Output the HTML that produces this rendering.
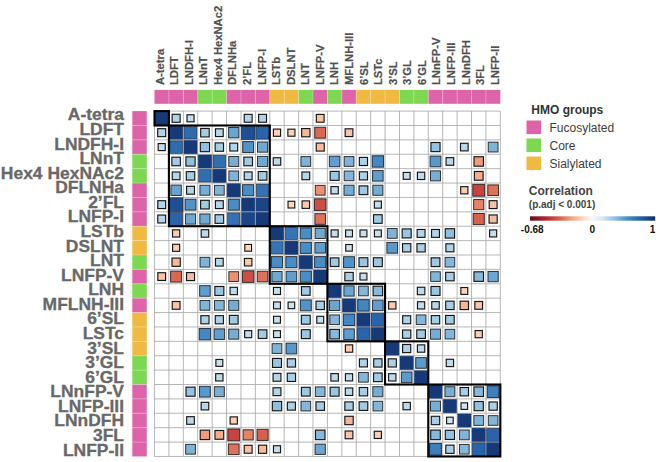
<!DOCTYPE html>
<html><head><meta charset="utf-8"><title>HMO correlation heatmap</title>
<style>html,body{margin:0;padding:0;background:#fff}body{width:661px;height:462px;overflow:hidden}</style></head>
<body>
<svg width="661" height="462" viewBox="0 0 661 462" style="display:block">
<rect width="661" height="462" fill="#fff"/>
<g font-family="'Liberation Sans', Arial, Helvetica, sans-serif" font-weight="bold" font-size="11" fill="#505050" stroke="#505050" stroke-width="0.2">
<text transform="translate(163.60,85.0) rotate(-90) scale(1.02,1)">A-tetra</text>
<text transform="translate(178.17,85.0) rotate(-90) scale(1.02,1)">LDFT</text>
<text transform="translate(192.74,85.0) rotate(-90) scale(1.02,1)">LNDFH-I</text>
<text transform="translate(207.31,85.0) rotate(-90) scale(1.02,1)">LNnT</text>
<text transform="translate(221.88,85.0) rotate(-90) scale(1.02,1)">Hex4 HexNAc2</text>
<text transform="translate(236.45,85.0) rotate(-90) scale(1.02,1)">DFLNHa</text>
<text transform="translate(251.02,85.0) rotate(-90) scale(1.02,1)">2’FL</text>
<text transform="translate(265.59,85.0) rotate(-90) scale(1.02,1)">LNFP-I</text>
<text transform="translate(280.16,85.0) rotate(-90) scale(1.02,1)">LSTb</text>
<text transform="translate(294.73,85.0) rotate(-90) scale(1.02,1)">DSLNT</text>
<text transform="translate(309.30,85.0) rotate(-90) scale(1.02,1)">LNT</text>
<text transform="translate(323.87,85.0) rotate(-90) scale(1.02,1)">LNFP-V</text>
<text transform="translate(338.44,85.0) rotate(-90) scale(1.02,1)">LNH</text>
<text transform="translate(353.01,85.0) rotate(-90) scale(1.02,1)">MFLNH-III</text>
<text transform="translate(367.58,85.0) rotate(-90) scale(1.02,1)">6’SL</text>
<text transform="translate(382.15,85.0) rotate(-90) scale(1.02,1)">LSTc</text>
<text transform="translate(396.72,85.0) rotate(-90) scale(1.02,1)">3’SL</text>
<text transform="translate(411.29,85.0) rotate(-90) scale(1.02,1)">3’GL</text>
<text transform="translate(425.86,85.0) rotate(-90) scale(1.02,1)">6’GL</text>
<text transform="translate(440.43,85.0) rotate(-90) scale(1.02,1)">LNnFP-V</text>
<text transform="translate(455.00,85.0) rotate(-90) scale(1.02,1)">LNFP-III</text>
<text transform="translate(469.57,85.0) rotate(-90) scale(1.02,1)">LNnDFH</text>
<text transform="translate(484.14,85.0) rotate(-90) scale(1.02,1)">3FL</text>
<text transform="translate(498.71,85.0) rotate(-90) scale(1.02,1)">LNFP-II</text>
</g>
<g font-family="'Liberation Sans', Arial, Helvetica, sans-serif" font-weight="bold" font-size="17.2" fill="#686868" stroke="#686868" stroke-width="0.3" text-anchor="end">
<text transform="translate(124,120.40) scale(1.015,1)">A-tetra</text>
<text transform="translate(124,134.97) scale(1.015,1)">LDFT</text>
<text transform="translate(124,149.54) scale(1.015,1)">LNDFH-I</text>
<text transform="translate(124,164.11) scale(1.015,1)">LNnT</text>
<text transform="translate(124,178.68) scale(1.015,1)">Hex4 HexNAc2</text>
<text transform="translate(124,193.25) scale(1.015,1)">DFLNHa</text>
<text transform="translate(124,207.82) scale(1.015,1)">2’FL</text>
<text transform="translate(124,222.39) scale(1.015,1)">LNFP-I</text>
<text transform="translate(124,236.96) scale(1.015,1)">LSTb</text>
<text transform="translate(124,251.53) scale(1.015,1)">DSLNT</text>
<text transform="translate(124,266.10) scale(1.015,1)">LNT</text>
<text transform="translate(124,280.67) scale(1.015,1)">LNFP-V</text>
<text transform="translate(124,295.24) scale(1.015,1)">LNH</text>
<text transform="translate(124,309.81) scale(1.015,1)">MFLNH-III</text>
<text transform="translate(124,324.38) scale(1.015,1)">6’SL</text>
<text transform="translate(124,338.95) scale(1.015,1)">LSTc</text>
<text transform="translate(124,353.52) scale(1.015,1)">3’SL</text>
<text transform="translate(124,368.09) scale(1.015,1)">3’GL</text>
<text transform="translate(124,382.66) scale(1.015,1)">6’GL</text>
<text transform="translate(124,397.23) scale(1.015,1)">LNnFP-V</text>
<text transform="translate(124,411.80) scale(1.015,1)">LNFP-III</text>
<text transform="translate(124,426.37) scale(1.015,1)">LNnDFH</text>
<text transform="translate(124,440.94) scale(1.015,1)">3FL</text>
<text transform="translate(124,455.51) scale(1.015,1)">LNFP-II</text>
</g>
<rect x="154.50" y="89.9" width="14.41" height="13.9" fill="#DE64AA"/>
<rect x="168.91" y="89.9" width="14.41" height="13.9" fill="#DE64AA"/>
<rect x="183.32" y="89.9" width="14.41" height="13.9" fill="#DE64AA"/>
<rect x="197.73" y="89.9" width="14.41" height="13.9" fill="#7DD750"/>
<rect x="212.14" y="89.9" width="14.41" height="13.9" fill="#7DD750"/>
<rect x="226.55" y="89.9" width="14.41" height="13.9" fill="#DE64AA"/>
<rect x="240.96" y="89.9" width="14.41" height="13.9" fill="#DE64AA"/>
<rect x="255.37" y="89.9" width="14.41" height="13.9" fill="#DE64AA"/>
<rect x="269.78" y="89.9" width="14.41" height="13.9" fill="#F0B941"/>
<rect x="284.19" y="89.9" width="14.41" height="13.9" fill="#F0B941"/>
<rect x="298.60" y="89.9" width="14.41" height="13.9" fill="#7DD750"/>
<rect x="313.01" y="89.9" width="14.41" height="13.9" fill="#DE64AA"/>
<rect x="327.42" y="89.9" width="14.41" height="13.9" fill="#7DD750"/>
<rect x="341.83" y="89.9" width="14.41" height="13.9" fill="#DE64AA"/>
<rect x="356.24" y="89.9" width="14.41" height="13.9" fill="#F0B941"/>
<rect x="370.65" y="89.9" width="14.41" height="13.9" fill="#F0B941"/>
<rect x="385.06" y="89.9" width="14.41" height="13.9" fill="#F0B941"/>
<rect x="399.47" y="89.9" width="14.41" height="13.9" fill="#7DD750"/>
<rect x="413.88" y="89.9" width="14.41" height="13.9" fill="#7DD750"/>
<rect x="428.29" y="89.9" width="14.41" height="13.9" fill="#DE64AA"/>
<rect x="442.70" y="89.9" width="14.41" height="13.9" fill="#DE64AA"/>
<rect x="457.11" y="89.9" width="14.41" height="13.9" fill="#DE64AA"/>
<rect x="471.52" y="89.9" width="14.41" height="13.9" fill="#DE64AA"/>
<rect x="485.93" y="89.9" width="14.41" height="13.9" fill="#DE64AA"/>
<rect x="132.3" y="111.10" width="14.5" height="14.39" fill="#DE64AA"/>
<rect x="132.3" y="125.49" width="14.5" height="14.39" fill="#DE64AA"/>
<rect x="132.3" y="139.88" width="14.5" height="14.39" fill="#DE64AA"/>
<rect x="132.3" y="154.27" width="14.5" height="14.39" fill="#7DD750"/>
<rect x="132.3" y="168.66" width="14.5" height="14.39" fill="#7DD750"/>
<rect x="132.3" y="183.05" width="14.5" height="14.39" fill="#DE64AA"/>
<rect x="132.3" y="197.44" width="14.5" height="14.39" fill="#DE64AA"/>
<rect x="132.3" y="211.83" width="14.5" height="14.39" fill="#DE64AA"/>
<rect x="132.3" y="226.22" width="14.5" height="14.39" fill="#F0B941"/>
<rect x="132.3" y="240.61" width="14.5" height="14.39" fill="#F0B941"/>
<rect x="132.3" y="255.00" width="14.5" height="14.39" fill="#7DD750"/>
<rect x="132.3" y="269.39" width="14.5" height="14.39" fill="#DE64AA"/>
<rect x="132.3" y="283.78" width="14.5" height="14.39" fill="#7DD750"/>
<rect x="132.3" y="298.17" width="14.5" height="14.39" fill="#DE64AA"/>
<rect x="132.3" y="312.56" width="14.5" height="14.39" fill="#F0B941"/>
<rect x="132.3" y="326.95" width="14.5" height="14.39" fill="#F0B941"/>
<rect x="132.3" y="341.34" width="14.5" height="14.39" fill="#F0B941"/>
<rect x="132.3" y="355.73" width="14.5" height="14.39" fill="#7DD750"/>
<rect x="132.3" y="370.12" width="14.5" height="14.39" fill="#7DD750"/>
<rect x="132.3" y="384.51" width="14.5" height="14.39" fill="#DE64AA"/>
<rect x="132.3" y="398.90" width="14.5" height="14.39" fill="#DE64AA"/>
<rect x="132.3" y="413.29" width="14.5" height="14.39" fill="#DE64AA"/>
<rect x="132.3" y="427.68" width="14.5" height="14.39" fill="#DE64AA"/>
<rect x="132.3" y="442.07" width="14.5" height="14.39" fill="#DE64AA"/>
<line x1="168.91" y1="89.9" x2="168.91" y2="103.8" stroke="#fff" stroke-opacity="0.4" stroke-width="0.7"/>
<line x1="183.32" y1="89.9" x2="183.32" y2="103.8" stroke="#fff" stroke-opacity="0.4" stroke-width="0.7"/>
<line x1="197.73" y1="89.9" x2="197.73" y2="103.8" stroke="#fff" stroke-opacity="0.4" stroke-width="0.7"/>
<line x1="212.14" y1="89.9" x2="212.14" y2="103.8" stroke="#fff" stroke-opacity="0.4" stroke-width="0.7"/>
<line x1="226.55" y1="89.9" x2="226.55" y2="103.8" stroke="#fff" stroke-opacity="0.4" stroke-width="0.7"/>
<line x1="240.96" y1="89.9" x2="240.96" y2="103.8" stroke="#fff" stroke-opacity="0.4" stroke-width="0.7"/>
<line x1="255.37" y1="89.9" x2="255.37" y2="103.8" stroke="#fff" stroke-opacity="0.4" stroke-width="0.7"/>
<line x1="269.78" y1="89.9" x2="269.78" y2="103.8" stroke="#fff" stroke-opacity="0.4" stroke-width="0.7"/>
<line x1="284.19" y1="89.9" x2="284.19" y2="103.8" stroke="#fff" stroke-opacity="0.4" stroke-width="0.7"/>
<line x1="298.60" y1="89.9" x2="298.60" y2="103.8" stroke="#fff" stroke-opacity="0.4" stroke-width="0.7"/>
<line x1="313.01" y1="89.9" x2="313.01" y2="103.8" stroke="#fff" stroke-opacity="0.4" stroke-width="0.7"/>
<line x1="327.42" y1="89.9" x2="327.42" y2="103.8" stroke="#fff" stroke-opacity="0.4" stroke-width="0.7"/>
<line x1="341.83" y1="89.9" x2="341.83" y2="103.8" stroke="#fff" stroke-opacity="0.4" stroke-width="0.7"/>
<line x1="356.24" y1="89.9" x2="356.24" y2="103.8" stroke="#fff" stroke-opacity="0.4" stroke-width="0.7"/>
<line x1="370.65" y1="89.9" x2="370.65" y2="103.8" stroke="#fff" stroke-opacity="0.4" stroke-width="0.7"/>
<line x1="385.06" y1="89.9" x2="385.06" y2="103.8" stroke="#fff" stroke-opacity="0.4" stroke-width="0.7"/>
<line x1="399.47" y1="89.9" x2="399.47" y2="103.8" stroke="#fff" stroke-opacity="0.4" stroke-width="0.7"/>
<line x1="413.88" y1="89.9" x2="413.88" y2="103.8" stroke="#fff" stroke-opacity="0.4" stroke-width="0.7"/>
<line x1="428.29" y1="89.9" x2="428.29" y2="103.8" stroke="#fff" stroke-opacity="0.4" stroke-width="0.7"/>
<line x1="442.70" y1="89.9" x2="442.70" y2="103.8" stroke="#fff" stroke-opacity="0.4" stroke-width="0.7"/>
<line x1="457.11" y1="89.9" x2="457.11" y2="103.8" stroke="#fff" stroke-opacity="0.4" stroke-width="0.7"/>
<line x1="471.52" y1="89.9" x2="471.52" y2="103.8" stroke="#fff" stroke-opacity="0.4" stroke-width="0.7"/>
<line x1="485.93" y1="89.9" x2="485.93" y2="103.8" stroke="#fff" stroke-opacity="0.4" stroke-width="0.7"/>
<line x1="132.3" y1="125.49" x2="146.8" y2="125.49" stroke="#fff" stroke-opacity="0.4" stroke-width="0.7"/>
<line x1="132.3" y1="139.88" x2="146.8" y2="139.88" stroke="#fff" stroke-opacity="0.4" stroke-width="0.7"/>
<line x1="132.3" y1="154.27" x2="146.8" y2="154.27" stroke="#fff" stroke-opacity="0.4" stroke-width="0.7"/>
<line x1="132.3" y1="168.66" x2="146.8" y2="168.66" stroke="#fff" stroke-opacity="0.4" stroke-width="0.7"/>
<line x1="132.3" y1="183.05" x2="146.8" y2="183.05" stroke="#fff" stroke-opacity="0.4" stroke-width="0.7"/>
<line x1="132.3" y1="197.44" x2="146.8" y2="197.44" stroke="#fff" stroke-opacity="0.4" stroke-width="0.7"/>
<line x1="132.3" y1="211.83" x2="146.8" y2="211.83" stroke="#fff" stroke-opacity="0.4" stroke-width="0.7"/>
<line x1="132.3" y1="226.22" x2="146.8" y2="226.22" stroke="#fff" stroke-opacity="0.4" stroke-width="0.7"/>
<line x1="132.3" y1="240.61" x2="146.8" y2="240.61" stroke="#fff" stroke-opacity="0.4" stroke-width="0.7"/>
<line x1="132.3" y1="255.00" x2="146.8" y2="255.00" stroke="#fff" stroke-opacity="0.4" stroke-width="0.7"/>
<line x1="132.3" y1="269.39" x2="146.8" y2="269.39" stroke="#fff" stroke-opacity="0.4" stroke-width="0.7"/>
<line x1="132.3" y1="283.78" x2="146.8" y2="283.78" stroke="#fff" stroke-opacity="0.4" stroke-width="0.7"/>
<line x1="132.3" y1="298.17" x2="146.8" y2="298.17" stroke="#fff" stroke-opacity="0.4" stroke-width="0.7"/>
<line x1="132.3" y1="312.56" x2="146.8" y2="312.56" stroke="#fff" stroke-opacity="0.4" stroke-width="0.7"/>
<line x1="132.3" y1="326.95" x2="146.8" y2="326.95" stroke="#fff" stroke-opacity="0.4" stroke-width="0.7"/>
<line x1="132.3" y1="341.34" x2="146.8" y2="341.34" stroke="#fff" stroke-opacity="0.4" stroke-width="0.7"/>
<line x1="132.3" y1="355.73" x2="146.8" y2="355.73" stroke="#fff" stroke-opacity="0.4" stroke-width="0.7"/>
<line x1="132.3" y1="370.12" x2="146.8" y2="370.12" stroke="#fff" stroke-opacity="0.4" stroke-width="0.7"/>
<line x1="132.3" y1="384.51" x2="146.8" y2="384.51" stroke="#fff" stroke-opacity="0.4" stroke-width="0.7"/>
<line x1="132.3" y1="398.90" x2="146.8" y2="398.90" stroke="#fff" stroke-opacity="0.4" stroke-width="0.7"/>
<line x1="132.3" y1="413.29" x2="146.8" y2="413.29" stroke="#fff" stroke-opacity="0.4" stroke-width="0.7"/>
<line x1="132.3" y1="427.68" x2="146.8" y2="427.68" stroke="#fff" stroke-opacity="0.4" stroke-width="0.7"/>
<line x1="132.3" y1="442.07" x2="146.8" y2="442.07" stroke="#fff" stroke-opacity="0.4" stroke-width="0.7"/>
<rect x="154.5" y="111.1" width="345.84" height="345.36" fill="#fff"/>
<rect x="154.50" y="111.10" width="14.41" height="14.39" fill="#163a78"/>
<rect x="168.91" y="125.49" width="14.41" height="14.39" fill="#163a78"/>
<rect x="183.32" y="139.88" width="14.41" height="14.39" fill="#163a78"/>
<rect x="197.73" y="154.27" width="14.41" height="14.39" fill="#163a78"/>
<rect x="212.14" y="168.66" width="14.41" height="14.39" fill="#163a78"/>
<rect x="226.55" y="183.05" width="14.41" height="14.39" fill="#163a78"/>
<rect x="240.96" y="197.44" width="14.41" height="14.39" fill="#163a78"/>
<rect x="255.37" y="197.44" width="14.41" height="14.39" fill="#1b4585"/>
<rect x="240.96" y="211.83" width="14.41" height="14.39" fill="#1b4585"/>
<rect x="255.37" y="211.83" width="14.41" height="14.39" fill="#163a78"/>
<rect x="269.78" y="226.22" width="14.41" height="14.39" fill="#163a78"/>
<rect x="284.19" y="240.61" width="14.41" height="14.39" fill="#163a78"/>
<rect x="298.60" y="255.00" width="14.41" height="14.39" fill="#163a78"/>
<rect x="313.01" y="269.39" width="14.41" height="14.39" fill="#163a78"/>
<rect x="327.42" y="283.78" width="14.41" height="14.39" fill="#163a78"/>
<rect x="341.83" y="298.17" width="14.41" height="14.39" fill="#163a78"/>
<rect x="356.24" y="312.56" width="14.41" height="14.39" fill="#163a78"/>
<rect x="370.65" y="326.95" width="14.41" height="14.39" fill="#163a78"/>
<rect x="385.06" y="341.34" width="14.41" height="14.39" fill="#163a78"/>
<rect x="399.47" y="355.73" width="14.41" height="14.39" fill="#163a78"/>
<rect x="413.88" y="370.12" width="14.41" height="14.39" fill="#163a78"/>
<rect x="428.29" y="384.51" width="14.41" height="14.39" fill="#163a78"/>
<rect x="442.70" y="398.90" width="14.41" height="14.39" fill="#163a78"/>
<rect x="457.11" y="413.29" width="14.41" height="14.39" fill="#163a78"/>
<rect x="471.52" y="427.68" width="14.41" height="14.39" fill="#163a78"/>
<rect x="485.93" y="442.07" width="14.41" height="14.39" fill="#163a78"/>
<g stroke="#a6a6a6" stroke-width="0.9" stroke-opacity="0.9">
<line x1="154.50" y1="111.1" x2="154.50" y2="456.46"/>
<line x1="168.91" y1="111.1" x2="168.91" y2="456.46"/>
<line x1="183.32" y1="111.1" x2="183.32" y2="456.46"/>
<line x1="197.73" y1="111.1" x2="197.73" y2="456.46"/>
<line x1="212.14" y1="111.1" x2="212.14" y2="456.46"/>
<line x1="226.55" y1="111.1" x2="226.55" y2="456.46"/>
<line x1="240.96" y1="111.1" x2="240.96" y2="456.46"/>
<line x1="255.37" y1="111.1" x2="255.37" y2="456.46"/>
<line x1="269.78" y1="111.1" x2="269.78" y2="456.46"/>
<line x1="284.19" y1="111.1" x2="284.19" y2="456.46"/>
<line x1="298.60" y1="111.1" x2="298.60" y2="456.46"/>
<line x1="313.01" y1="111.1" x2="313.01" y2="456.46"/>
<line x1="327.42" y1="111.1" x2="327.42" y2="456.46"/>
<line x1="341.83" y1="111.1" x2="341.83" y2="456.46"/>
<line x1="356.24" y1="111.1" x2="356.24" y2="456.46"/>
<line x1="370.65" y1="111.1" x2="370.65" y2="456.46"/>
<line x1="385.06" y1="111.1" x2="385.06" y2="456.46"/>
<line x1="399.47" y1="111.1" x2="399.47" y2="456.46"/>
<line x1="413.88" y1="111.1" x2="413.88" y2="456.46"/>
<line x1="428.29" y1="111.1" x2="428.29" y2="456.46"/>
<line x1="442.70" y1="111.1" x2="442.70" y2="456.46"/>
<line x1="457.11" y1="111.1" x2="457.11" y2="456.46"/>
<line x1="471.52" y1="111.1" x2="471.52" y2="456.46"/>
<line x1="485.93" y1="111.1" x2="485.93" y2="456.46"/>
<line x1="500.34" y1="111.1" x2="500.34" y2="456.46"/>
<line x1="154.5" y1="111.10" x2="500.34" y2="111.10"/>
<line x1="154.5" y1="125.49" x2="500.34" y2="125.49"/>
<line x1="154.5" y1="139.88" x2="500.34" y2="139.88"/>
<line x1="154.5" y1="154.27" x2="500.34" y2="154.27"/>
<line x1="154.5" y1="168.66" x2="500.34" y2="168.66"/>
<line x1="154.5" y1="183.05" x2="500.34" y2="183.05"/>
<line x1="154.5" y1="197.44" x2="500.34" y2="197.44"/>
<line x1="154.5" y1="211.83" x2="500.34" y2="211.83"/>
<line x1="154.5" y1="226.22" x2="500.34" y2="226.22"/>
<line x1="154.5" y1="240.61" x2="500.34" y2="240.61"/>
<line x1="154.5" y1="255.00" x2="500.34" y2="255.00"/>
<line x1="154.5" y1="269.39" x2="500.34" y2="269.39"/>
<line x1="154.5" y1="283.78" x2="500.34" y2="283.78"/>
<line x1="154.5" y1="298.17" x2="500.34" y2="298.17"/>
<line x1="154.5" y1="312.56" x2="500.34" y2="312.56"/>
<line x1="154.5" y1="326.95" x2="500.34" y2="326.95"/>
<line x1="154.5" y1="341.34" x2="500.34" y2="341.34"/>
<line x1="154.5" y1="355.73" x2="500.34" y2="355.73"/>
<line x1="154.5" y1="370.12" x2="500.34" y2="370.12"/>
<line x1="154.5" y1="384.51" x2="500.34" y2="384.51"/>
<line x1="154.5" y1="398.90" x2="500.34" y2="398.90"/>
<line x1="154.5" y1="413.29" x2="500.34" y2="413.29"/>
<line x1="154.5" y1="427.68" x2="500.34" y2="427.68"/>
<line x1="154.5" y1="442.07" x2="500.34" y2="442.07"/>
<line x1="154.5" y1="456.46" x2="500.34" y2="456.46"/>
</g>
<g stroke="#161616" stroke-width="1.15">
<rect x="172.10" y="114.29" width="8.02" height="8.01" fill="#b1d3e7"/>
<rect x="187.00" y="114.77" width="7.06" height="7.05" fill="#c5deed"/>
<rect x="244.22" y="114.35" width="7.89" height="7.88" fill="#b4d4e8"/>
<rect x="258.63" y="114.35" width="7.89" height="7.88" fill="#b4d4e8"/>
<rect x="316.33" y="114.42" width="7.76" height="7.75" fill="#f9c3a8"/>
<rect x="157.69" y="128.68" width="8.02" height="8.01" fill="#b1d3e7"/>
<rect x="184.24" y="126.41" width="12.56" height="12.54" fill="#2e6cb1" stroke-width="0.8" stroke-opacity="0.7"/>
<rect x="200.67" y="128.43" width="8.53" height="8.51" fill="#a5cce4"/>
<rect x="215.46" y="128.81" width="7.76" height="7.75" fill="#b6d6e9"/>
<rect x="228.56" y="127.50" width="10.39" height="10.38" fill="#67a4d0" stroke-width="1" stroke-opacity="0.85"/>
<rect x="241.33" y="125.86" width="13.67" height="13.65" fill="#1f4f92" stroke-width="0.8" stroke-opacity="0.7"/>
<rect x="256.13" y="126.25" width="12.89" height="12.87" fill="#2864ac" stroke-width="0.8" stroke-opacity="0.7"/>
<rect x="273.38" y="129.09" width="7.21" height="7.20" fill="#fbceb6"/>
<rect x="287.87" y="129.16" width="7.06" height="7.05" fill="#fbd0b9"/>
<rect x="301.67" y="128.55" width="8.28" height="8.27" fill="#f7b89a"/>
<rect x="314.73" y="127.21" width="10.97" height="10.96" fill="#d96752" stroke-width="1" stroke-opacity="0.85"/>
<rect x="345.15" y="128.81" width="7.76" height="7.75" fill="#f9c3a8"/>
<rect x="158.18" y="143.55" width="7.06" height="7.05" fill="#c5deed"/>
<rect x="169.83" y="140.80" width="12.56" height="12.54" fill="#2e6cb1" stroke-width="0.8" stroke-opacity="0.7"/>
<rect x="200.32" y="142.47" width="9.23" height="9.21" fill="#92c1df"/>
<rect x="215.14" y="142.88" width="8.40" height="8.39" fill="#a8cee5"/>
<rect x="229.81" y="143.13" width="7.89" height="7.88" fill="#b4d4e8"/>
<rect x="242.68" y="141.60" width="10.97" height="10.96" fill="#5093c9" stroke-width="1" stroke-opacity="0.85"/>
<rect x="257.48" y="141.99" width="10.19" height="10.18" fill="#6fa9d3" stroke-width="1" stroke-opacity="0.85"/>
<rect x="316.20" y="143.07" width="8.02" height="8.01" fill="#f8bda1"/>
<rect x="430.94" y="142.52" width="9.11" height="9.10" fill="#96c4e0"/>
<rect x="460.50" y="143.27" width="7.63" height="7.61" fill="#b9d8ea"/>
<rect x="488.25" y="142.20" width="9.77" height="9.76" fill="#7fb4d8" stroke-width="1" stroke-opacity="0.85"/>
<rect x="171.85" y="157.21" width="8.53" height="8.51" fill="#a5cce4"/>
<rect x="185.91" y="156.86" width="9.23" height="9.21" fill="#92c1df"/>
<rect x="213.11" y="155.23" width="12.48" height="12.46" fill="#306eb2" stroke-width="0.8" stroke-opacity="0.7"/>
<rect x="228.76" y="156.48" width="9.98" height="9.97" fill="#77aed6" stroke-width="1" stroke-opacity="0.85"/>
<rect x="243.84" y="157.15" width="8.65" height="8.63" fill="#a2cbe3"/>
<rect x="257.48" y="156.38" width="10.19" height="10.18" fill="#6fa9d3" stroke-width="1" stroke-opacity="0.85"/>
<rect x="273.24" y="157.73" width="7.49" height="7.48" fill="#bcd9ea"/>
<rect x="300.92" y="156.59" width="9.77" height="9.76" fill="#7fb4d8" stroke-width="1" stroke-opacity="0.85"/>
<rect x="329.33" y="156.18" width="10.59" height="10.57" fill="#5f9ece" stroke-width="1" stroke-opacity="0.85"/>
<rect x="344.15" y="156.59" width="9.77" height="9.76" fill="#7fb4d8" stroke-width="1" stroke-opacity="0.85"/>
<rect x="359.37" y="157.39" width="8.15" height="8.14" fill="#aed1e6"/>
<rect x="372.14" y="155.75" width="11.44" height="11.42" fill="#4388c2" stroke-width="1" stroke-opacity="0.85"/>
<rect x="430.10" y="156.08" width="10.78" height="10.77" fill="#5899cb" stroke-width="1" stroke-opacity="0.85"/>
<rect x="446.09" y="157.66" width="7.63" height="7.61" fill="#b9d8ea"/>
<rect x="474.00" y="156.75" width="9.45" height="9.44" fill="#f09b7a"/>
<rect x="172.23" y="171.98" width="7.76" height="7.75" fill="#b6d6e9"/>
<rect x="186.32" y="171.66" width="8.40" height="8.39" fill="#a8cee5"/>
<rect x="198.70" y="169.62" width="12.48" height="12.46" fill="#306eb2" stroke-width="0.8" stroke-opacity="0.7"/>
<rect x="228.87" y="170.98" width="9.77" height="9.76" fill="#7fb4d8" stroke-width="1" stroke-opacity="0.85"/>
<rect x="244.22" y="171.91" width="7.89" height="7.88" fill="#b4d4e8"/>
<rect x="258.25" y="171.54" width="8.65" height="8.63" fill="#a2cbe3"/>
<rect x="301.92" y="171.98" width="7.76" height="7.75" fill="#b6d6e9"/>
<rect x="330.13" y="171.36" width="9.00" height="8.99" fill="#99c6e1"/>
<rect x="344.20" y="171.03" width="9.67" height="9.65" fill="#82b6da" stroke-width="1" stroke-opacity="0.85"/>
<rect x="359.37" y="171.78" width="8.15" height="8.14" fill="#aed1e6"/>
<rect x="372.56" y="170.57" width="10.59" height="10.57" fill="#5f9ece" stroke-width="1" stroke-opacity="0.85"/>
<rect x="403.22" y="172.40" width="6.91" height="6.90" fill="#c8e0ee"/>
<rect x="417.41" y="172.19" width="7.35" height="7.34" fill="#bfdbeb"/>
<rect x="430.50" y="170.87" width="9.98" height="9.97" fill="#77aed6" stroke-width="1" stroke-opacity="0.85"/>
<rect x="474.34" y="171.48" width="8.77" height="8.75" fill="#f5ad8c"/>
<rect x="170.92" y="185.06" width="10.39" height="10.38" fill="#67a4d0" stroke-width="1" stroke-opacity="0.85"/>
<rect x="186.58" y="186.30" width="7.89" height="7.88" fill="#b4d4e8"/>
<rect x="199.94" y="185.26" width="9.98" height="9.97" fill="#77aed6" stroke-width="1" stroke-opacity="0.85"/>
<rect x="214.46" y="185.37" width="9.77" height="9.76" fill="#7fb4d8" stroke-width="1" stroke-opacity="0.85"/>
<rect x="242.58" y="184.67" width="11.16" height="11.15" fill="#488ec6" stroke-width="1" stroke-opacity="0.85"/>
<rect x="256.38" y="184.06" width="12.40" height="12.38" fill="#3271b4" stroke-width="0.8" stroke-opacity="0.7"/>
<rect x="315.33" y="185.37" width="9.77" height="9.76" fill="#eb9072" stroke-width="1" stroke-opacity="0.85"/>
<rect x="330.95" y="186.58" width="7.35" height="7.34" fill="#bfdbeb"/>
<rect x="343.99" y="185.21" width="10.09" height="10.07" fill="#73acd4" stroke-width="1" stroke-opacity="0.85"/>
<rect x="359.06" y="185.87" width="8.77" height="8.75" fill="#9fc9e2"/>
<rect x="372.81" y="185.21" width="10.09" height="10.07" fill="#73acd4" stroke-width="1" stroke-opacity="0.85"/>
<rect x="460.71" y="186.65" width="7.21" height="7.20" fill="#fbceb6"/>
<rect x="472.78" y="184.31" width="11.88" height="11.87" fill="#c8433f" stroke-width="1" stroke-opacity="0.85"/>
<rect x="487.79" y="184.91" width="10.69" height="10.67" fill="#de715a" stroke-width="1" stroke-opacity="0.85"/>
<rect x="157.76" y="200.69" width="7.89" height="7.88" fill="#b4d4e8"/>
<rect x="169.28" y="197.81" width="13.67" height="13.65" fill="#1f4f92" stroke-width="0.8" stroke-opacity="0.7"/>
<rect x="185.04" y="199.16" width="10.97" height="10.96" fill="#5093c9" stroke-width="1" stroke-opacity="0.85"/>
<rect x="200.61" y="200.32" width="8.65" height="8.63" fill="#a2cbe3"/>
<rect x="215.40" y="200.69" width="7.89" height="7.88" fill="#b4d4e8"/>
<rect x="228.17" y="199.06" width="11.16" height="11.15" fill="#488ec6" stroke-width="1" stroke-opacity="0.85"/>
<rect x="288.02" y="201.26" width="6.76" height="6.75" fill="#fcd6c0"/>
<rect x="302.06" y="200.90" width="7.49" height="7.48" fill="#fac8af"/>
<rect x="314.41" y="198.83" width="11.62" height="11.60" fill="#cd4e44" stroke-width="1" stroke-opacity="0.85"/>
<rect x="374.33" y="201.11" width="7.06" height="7.05" fill="#c5deed"/>
<rect x="473.63" y="199.55" width="10.19" height="10.18" fill="#e58268" stroke-width="1" stroke-opacity="0.85"/>
<rect x="489.19" y="200.69" width="7.89" height="7.88" fill="#f8c0a4"/>
<rect x="157.76" y="215.08" width="7.89" height="7.88" fill="#b4d4e8"/>
<rect x="169.67" y="212.59" width="12.89" height="12.87" fill="#2864ac" stroke-width="0.8" stroke-opacity="0.7"/>
<rect x="185.43" y="213.94" width="10.19" height="10.18" fill="#6fa9d3" stroke-width="1" stroke-opacity="0.85"/>
<rect x="199.84" y="213.94" width="10.19" height="10.18" fill="#6fa9d3" stroke-width="1" stroke-opacity="0.85"/>
<rect x="215.02" y="214.71" width="8.65" height="8.63" fill="#a2cbe3"/>
<rect x="227.56" y="212.84" width="12.40" height="12.38" fill="#3271b4" stroke-width="0.8" stroke-opacity="0.7"/>
<rect x="314.87" y="213.69" width="10.69" height="10.67" fill="#de715a" stroke-width="1" stroke-opacity="0.85"/>
<rect x="373.53" y="214.71" width="8.65" height="8.63" fill="#a2cbe3"/>
<rect x="473.14" y="213.45" width="11.16" height="11.15" fill="#d6604d" stroke-width="1" stroke-opacity="0.85"/>
<rect x="489.06" y="214.95" width="8.15" height="8.14" fill="#f8bb9e"/>
<rect x="172.51" y="229.82" width="7.21" height="7.20" fill="#fbceb6"/>
<rect x="201.19" y="229.68" width="7.49" height="7.48" fill="#bcd9ea"/>
<rect x="285.28" y="227.31" width="12.23" height="12.21" fill="#3575b6" stroke-width="0.8" stroke-opacity="0.7"/>
<rect x="300.22" y="227.84" width="11.16" height="11.15" fill="#488ec6" stroke-width="1" stroke-opacity="0.85"/>
<rect x="315.12" y="228.33" width="10.19" height="10.18" fill="#6fa9d3" stroke-width="1" stroke-opacity="0.85"/>
<rect x="331.10" y="229.89" width="7.06" height="7.05" fill="#c5deed"/>
<rect x="345.58" y="229.96" width="6.91" height="6.90" fill="#c8e0ee"/>
<rect x="359.99" y="229.96" width="6.91" height="6.90" fill="#c8e0ee"/>
<rect x="374.40" y="229.96" width="6.91" height="6.90" fill="#c8e0ee"/>
<rect x="387.38" y="228.54" width="9.77" height="9.76" fill="#7fb4d8" stroke-width="1" stroke-opacity="0.85"/>
<rect x="402.18" y="228.92" width="9.00" height="8.99" fill="#99c6e1"/>
<rect x="417.14" y="229.47" width="7.89" height="7.88" fill="#b4d4e8"/>
<rect x="431.55" y="229.47" width="7.89" height="7.88" fill="#b4d4e8"/>
<rect x="445.24" y="228.75" width="9.34" height="9.33" fill="#8ebfdd"/>
<rect x="489.61" y="229.89" width="7.06" height="7.05" fill="#c5deed"/>
<rect x="172.59" y="244.28" width="7.06" height="7.05" fill="#fbd0b9"/>
<rect x="244.79" y="244.43" width="6.76" height="6.75" fill="#fcd6c0"/>
<rect x="270.87" y="241.70" width="12.23" height="12.21" fill="#3575b6" stroke-width="0.8" stroke-opacity="0.7"/>
<rect x="300.22" y="242.23" width="11.16" height="11.15" fill="#488ec6" stroke-width="1" stroke-opacity="0.85"/>
<rect x="314.92" y="242.52" width="10.59" height="10.57" fill="#5f9ece" stroke-width="1" stroke-opacity="0.85"/>
<rect x="345.73" y="244.51" width="6.60" height="6.59" fill="#cee3ef"/>
<rect x="386.87" y="242.42" width="10.78" height="10.77" fill="#5899cb" stroke-width="1" stroke-opacity="0.85"/>
<rect x="402.54" y="243.67" width="8.28" height="8.27" fill="#abd0e6"/>
<rect x="416.95" y="243.67" width="8.28" height="8.27" fill="#abd0e6"/>
<rect x="445.89" y="243.80" width="8.02" height="8.01" fill="#b1d3e7"/>
<rect x="171.98" y="258.06" width="8.28" height="8.27" fill="#f7b89a"/>
<rect x="200.05" y="257.32" width="9.77" height="9.76" fill="#7fb4d8" stroke-width="1" stroke-opacity="0.85"/>
<rect x="215.46" y="258.32" width="7.76" height="7.75" fill="#b6d6e9"/>
<rect x="244.42" y="258.46" width="7.49" height="7.48" fill="#fac8af"/>
<rect x="271.40" y="256.62" width="11.16" height="11.15" fill="#488ec6" stroke-width="1" stroke-opacity="0.85"/>
<rect x="285.81" y="256.62" width="11.16" height="11.15" fill="#488ec6" stroke-width="1" stroke-opacity="0.85"/>
<rect x="314.63" y="256.62" width="11.16" height="11.15" fill="#488ec6" stroke-width="1" stroke-opacity="0.85"/>
<rect x="330.30" y="257.88" width="8.65" height="8.63" fill="#a2cbe3"/>
<rect x="343.55" y="256.72" width="10.97" height="10.96" fill="#5093c9" stroke-width="1" stroke-opacity="0.85"/>
<rect x="359.00" y="257.76" width="8.88" height="8.87" fill="#9cc7e2"/>
<rect x="373.41" y="257.76" width="8.88" height="8.87" fill="#9cc7e2"/>
<rect x="431.11" y="257.82" width="8.77" height="8.75" fill="#9fc9e2"/>
<rect x="445.07" y="257.37" width="9.67" height="9.65" fill="#82b6da" stroke-width="1" stroke-opacity="0.85"/>
<rect x="157.82" y="272.71" width="7.76" height="7.75" fill="#f9c3a8"/>
<rect x="170.63" y="271.11" width="10.97" height="10.96" fill="#d96752" stroke-width="1" stroke-opacity="0.85"/>
<rect x="186.51" y="272.58" width="8.02" height="8.01" fill="#f8bda1"/>
<rect x="228.87" y="271.71" width="9.77" height="9.76" fill="#eb9072" stroke-width="1" stroke-opacity="0.85"/>
<rect x="242.36" y="270.78" width="11.62" height="11.60" fill="#cd4e44" stroke-width="1" stroke-opacity="0.85"/>
<rect x="257.23" y="271.25" width="10.69" height="10.67" fill="#de715a" stroke-width="1" stroke-opacity="0.85"/>
<rect x="271.89" y="271.50" width="10.19" height="10.18" fill="#6fa9d3" stroke-width="1" stroke-opacity="0.85"/>
<rect x="286.10" y="271.30" width="10.59" height="10.57" fill="#5f9ece" stroke-width="1" stroke-opacity="0.85"/>
<rect x="300.22" y="271.01" width="11.16" height="11.15" fill="#488ec6" stroke-width="1" stroke-opacity="0.85"/>
<rect x="344.83" y="272.39" width="8.40" height="8.39" fill="#a8cee5"/>
<rect x="359.99" y="273.13" width="6.91" height="6.90" fill="#c8e0ee"/>
<rect x="430.66" y="271.76" width="9.67" height="9.65" fill="#82b6da" stroke-width="1" stroke-opacity="0.85"/>
<rect x="445.64" y="272.33" width="8.53" height="8.51" fill="#a5cce4"/>
<rect x="473.95" y="271.81" width="9.56" height="9.55" fill="#86b9db"/>
<rect x="487.99" y="271.45" width="10.29" height="10.28" fill="#6ba6d2" stroke-width="1" stroke-opacity="0.85"/>
<rect x="199.64" y="285.69" width="10.59" height="10.57" fill="#5f9ece" stroke-width="1" stroke-opacity="0.85"/>
<rect x="214.85" y="286.48" width="9.00" height="8.99" fill="#99c6e1"/>
<rect x="230.08" y="287.31" width="7.35" height="7.34" fill="#bfdbeb"/>
<rect x="273.46" y="287.45" width="7.06" height="7.05" fill="#c5deed"/>
<rect x="301.48" y="286.66" width="8.65" height="8.63" fill="#a2cbe3"/>
<rect x="343.89" y="285.84" width="10.29" height="10.28" fill="#6ba6d2" stroke-width="1" stroke-opacity="0.85"/>
<rect x="358.61" y="286.15" width="9.67" height="9.65" fill="#82b6da" stroke-width="1" stroke-opacity="0.85"/>
<rect x="373.08" y="286.20" width="9.56" height="9.55" fill="#86b9db"/>
<rect x="417.34" y="287.24" width="7.49" height="7.48" fill="#bcd9ea"/>
<rect x="431.00" y="286.48" width="9.00" height="8.99" fill="#99c6e1"/>
<rect x="460.86" y="287.52" width="6.91" height="6.90" fill="#fcd3bd"/>
<rect x="172.23" y="301.49" width="7.76" height="7.75" fill="#f9c3a8"/>
<rect x="200.05" y="300.49" width="9.77" height="9.76" fill="#7fb4d8" stroke-width="1" stroke-opacity="0.85"/>
<rect x="214.51" y="300.54" width="9.67" height="9.65" fill="#82b6da" stroke-width="1" stroke-opacity="0.85"/>
<rect x="228.71" y="300.33" width="10.09" height="10.07" fill="#73acd4" stroke-width="1" stroke-opacity="0.85"/>
<rect x="273.53" y="301.91" width="6.91" height="6.90" fill="#c8e0ee"/>
<rect x="288.09" y="302.07" width="6.60" height="6.59" fill="#cee3ef"/>
<rect x="300.32" y="299.89" width="10.97" height="10.96" fill="#5093c9" stroke-width="1" stroke-opacity="0.85"/>
<rect x="316.01" y="301.17" width="8.40" height="8.39" fill="#a8cee5"/>
<rect x="329.48" y="300.23" width="10.29" height="10.28" fill="#6ba6d2" stroke-width="1" stroke-opacity="0.85"/>
<rect x="357.68" y="299.61" width="11.53" height="11.51" fill="#4286c1" stroke-width="1" stroke-opacity="0.85"/>
<rect x="372.56" y="300.08" width="10.59" height="10.57" fill="#5f9ece" stroke-width="1" stroke-opacity="0.85"/>
<rect x="388.59" y="301.70" width="7.35" height="7.34" fill="#facbb2"/>
<rect x="417.48" y="301.77" width="7.21" height="7.20" fill="#c2ddec"/>
<rect x="431.75" y="301.63" width="7.49" height="7.48" fill="#bcd9ea"/>
<rect x="445.70" y="301.17" width="8.40" height="8.39" fill="#a8cee5"/>
<rect x="460.11" y="301.17" width="8.40" height="8.39" fill="#f7b597"/>
<rect x="474.84" y="301.49" width="7.76" height="7.75" fill="#f9c3a8"/>
<rect x="200.86" y="315.68" width="8.15" height="8.14" fill="#aed1e6"/>
<rect x="215.27" y="315.68" width="8.15" height="8.14" fill="#aed1e6"/>
<rect x="229.37" y="315.38" width="8.77" height="8.75" fill="#9fc9e2"/>
<rect x="273.53" y="316.30" width="6.91" height="6.90" fill="#c8e0ee"/>
<rect x="301.36" y="315.32" width="8.88" height="8.87" fill="#9cc7e2"/>
<rect x="316.76" y="316.30" width="6.91" height="6.90" fill="#c8e0ee"/>
<rect x="329.79" y="314.93" width="9.67" height="9.65" fill="#82b6da" stroke-width="1" stroke-opacity="0.85"/>
<rect x="343.27" y="314.00" width="11.53" height="11.51" fill="#4286c1" stroke-width="1" stroke-opacity="0.85"/>
<rect x="371.41" y="313.32" width="12.89" height="12.87" fill="#2864ac" stroke-width="0.8" stroke-opacity="0.7"/>
<rect x="402.66" y="315.75" width="8.02" height="8.01" fill="#b1d3e7"/>
<rect x="416.25" y="314.93" width="9.67" height="9.65" fill="#82b6da" stroke-width="1" stroke-opacity="0.85"/>
<rect x="431.29" y="315.56" width="8.40" height="8.39" fill="#a8cee5"/>
<rect x="445.58" y="315.44" width="8.65" height="8.63" fill="#a2cbe3"/>
<rect x="199.22" y="328.43" width="11.44" height="11.42" fill="#4388c2" stroke-width="1" stroke-opacity="0.85"/>
<rect x="214.05" y="328.86" width="10.59" height="10.57" fill="#5f9ece" stroke-width="1" stroke-opacity="0.85"/>
<rect x="228.71" y="329.11" width="10.09" height="10.07" fill="#73acd4" stroke-width="1" stroke-opacity="0.85"/>
<rect x="244.64" y="330.62" width="7.06" height="7.05" fill="#c5deed"/>
<rect x="258.25" y="329.83" width="8.65" height="8.63" fill="#a2cbe3"/>
<rect x="273.53" y="330.69" width="6.91" height="6.90" fill="#c8e0ee"/>
<rect x="301.36" y="329.71" width="8.88" height="8.87" fill="#9cc7e2"/>
<rect x="329.85" y="329.37" width="9.56" height="9.55" fill="#86b9db"/>
<rect x="343.74" y="328.86" width="10.59" height="10.57" fill="#5f9ece" stroke-width="1" stroke-opacity="0.85"/>
<rect x="357.00" y="327.71" width="12.89" height="12.87" fill="#2864ac" stroke-width="0.8" stroke-opacity="0.7"/>
<rect x="402.54" y="330.01" width="8.28" height="8.27" fill="#abd0e6"/>
<rect x="416.76" y="329.83" width="8.65" height="8.63" fill="#a2cbe3"/>
<rect x="430.45" y="329.11" width="10.09" height="10.07" fill="#73acd4" stroke-width="1" stroke-opacity="0.85"/>
<rect x="445.07" y="329.32" width="9.67" height="9.65" fill="#82b6da" stroke-width="1" stroke-opacity="0.85"/>
<rect x="475.12" y="330.55" width="7.21" height="7.20" fill="#fbceb6"/>
<rect x="272.10" y="343.66" width="9.77" height="9.76" fill="#7fb4d8" stroke-width="1" stroke-opacity="0.85"/>
<rect x="286.00" y="343.15" width="10.78" height="10.77" fill="#5899cb" stroke-width="1" stroke-opacity="0.85"/>
<rect x="345.36" y="344.87" width="7.35" height="7.34" fill="#facbb2"/>
<rect x="402.60" y="344.46" width="8.15" height="8.14" fill="#aed1e6"/>
<rect x="417.41" y="344.87" width="7.35" height="7.34" fill="#bfdbeb"/>
<rect x="215.89" y="359.47" width="6.91" height="6.90" fill="#c8e0ee"/>
<rect x="272.49" y="358.43" width="9.00" height="8.99" fill="#99c6e1"/>
<rect x="287.26" y="358.79" width="8.28" height="8.27" fill="#abd0e6"/>
<rect x="359.43" y="358.92" width="8.02" height="8.01" fill="#b1d3e7"/>
<rect x="373.72" y="358.79" width="8.28" height="8.27" fill="#abd0e6"/>
<rect x="388.19" y="358.85" width="8.15" height="8.14" fill="#aed1e6"/>
<rect x="415.74" y="357.59" width="10.69" height="10.67" fill="#5b9bcc" stroke-width="1" stroke-opacity="0.85"/>
<rect x="446.23" y="359.26" width="7.35" height="7.34" fill="#bfdbeb"/>
<rect x="215.67" y="373.65" width="7.35" height="7.34" fill="#bfdbeb"/>
<rect x="273.04" y="373.37" width="7.89" height="7.88" fill="#b4d4e8"/>
<rect x="287.26" y="373.18" width="8.28" height="8.27" fill="#abd0e6"/>
<rect x="330.88" y="373.58" width="7.49" height="7.48" fill="#bcd9ea"/>
<rect x="345.43" y="373.72" width="7.21" height="7.20" fill="#c2ddec"/>
<rect x="358.61" y="372.49" width="9.67" height="9.65" fill="#82b6da" stroke-width="1" stroke-opacity="0.85"/>
<rect x="373.53" y="373.00" width="8.65" height="8.63" fill="#a2cbe3"/>
<rect x="388.59" y="373.65" width="7.35" height="7.34" fill="#bfdbeb"/>
<rect x="401.33" y="371.98" width="10.69" height="10.67" fill="#5b9bcc" stroke-width="1" stroke-opacity="0.85"/>
<rect x="185.97" y="387.15" width="9.11" height="9.10" fill="#96c4e0"/>
<rect x="199.54" y="386.32" width="10.78" height="10.77" fill="#5899cb" stroke-width="1" stroke-opacity="0.85"/>
<rect x="214.35" y="386.72" width="9.98" height="9.97" fill="#77aed6" stroke-width="1" stroke-opacity="0.85"/>
<rect x="273.04" y="387.76" width="7.89" height="7.88" fill="#b4d4e8"/>
<rect x="301.42" y="387.33" width="8.77" height="8.75" fill="#9fc9e2"/>
<rect x="315.38" y="386.88" width="9.67" height="9.65" fill="#82b6da" stroke-width="1" stroke-opacity="0.85"/>
<rect x="330.13" y="387.21" width="9.00" height="8.99" fill="#99c6e1"/>
<rect x="345.29" y="387.97" width="7.49" height="7.48" fill="#bcd9ea"/>
<rect x="359.24" y="387.51" width="8.40" height="8.39" fill="#a8cee5"/>
<rect x="372.81" y="386.67" width="10.09" height="10.07" fill="#73acd4" stroke-width="1" stroke-opacity="0.85"/>
<rect x="444.91" y="386.72" width="9.98" height="9.97" fill="#77aed6" stroke-width="1" stroke-opacity="0.85"/>
<rect x="460.11" y="387.51" width="8.40" height="8.39" fill="#a8cee5"/>
<rect x="473.95" y="386.93" width="9.56" height="9.55" fill="#86b9db"/>
<rect x="487.24" y="385.82" width="11.80" height="11.78" fill="#3d7fbd" stroke-width="1" stroke-opacity="0.85"/>
<rect x="201.12" y="402.29" width="7.63" height="7.61" fill="#b9d8ea"/>
<rect x="272.32" y="401.43" width="9.34" height="9.33" fill="#8ebfdd"/>
<rect x="287.38" y="402.09" width="8.02" height="8.01" fill="#b1d3e7"/>
<rect x="300.97" y="401.27" width="9.67" height="9.65" fill="#82b6da" stroke-width="1" stroke-opacity="0.85"/>
<rect x="315.95" y="401.84" width="8.53" height="8.51" fill="#a5cce4"/>
<rect x="344.83" y="401.90" width="8.40" height="8.39" fill="#a8cee5"/>
<rect x="359.12" y="401.78" width="8.65" height="8.63" fill="#a2cbe3"/>
<rect x="373.02" y="401.27" width="9.67" height="9.65" fill="#82b6da" stroke-width="1" stroke-opacity="0.85"/>
<rect x="403.00" y="402.43" width="7.35" height="7.34" fill="#bfdbeb"/>
<rect x="430.50" y="401.11" width="9.98" height="9.97" fill="#77aed6" stroke-width="1" stroke-opacity="0.85"/>
<rect x="461.01" y="402.80" width="6.60" height="6.59" fill="#cee3ef"/>
<rect x="474.11" y="401.49" width="9.23" height="9.21" fill="#92c1df"/>
<rect x="489.00" y="401.96" width="8.28" height="8.27" fill="#abd0e6"/>
<rect x="186.71" y="416.68" width="7.63" height="7.61" fill="#b9d8ea"/>
<rect x="230.15" y="416.89" width="7.21" height="7.20" fill="#fbceb6"/>
<rect x="344.83" y="416.29" width="8.40" height="8.39" fill="#f7b597"/>
<rect x="431.29" y="416.29" width="8.40" height="8.39" fill="#a8cee5"/>
<rect x="446.60" y="417.19" width="6.60" height="6.59" fill="#cee3ef"/>
<rect x="473.84" y="415.61" width="9.77" height="9.76" fill="#7fb4d8" stroke-width="1" stroke-opacity="0.85"/>
<rect x="488.30" y="415.66" width="9.67" height="9.65" fill="#82b6da" stroke-width="1" stroke-opacity="0.85"/>
<rect x="200.21" y="430.16" width="9.45" height="9.44" fill="#f09b7a"/>
<rect x="214.96" y="430.50" width="8.77" height="8.75" fill="#f5ad8c"/>
<rect x="227.81" y="428.94" width="11.88" height="11.87" fill="#c8433f" stroke-width="1" stroke-opacity="0.85"/>
<rect x="243.07" y="429.79" width="10.19" height="10.18" fill="#e58268" stroke-width="1" stroke-opacity="0.85"/>
<rect x="256.99" y="429.30" width="11.16" height="11.15" fill="#d6604d" stroke-width="1" stroke-opacity="0.85"/>
<rect x="315.44" y="430.10" width="9.56" height="9.55" fill="#86b9db"/>
<rect x="345.15" y="431.00" width="7.76" height="7.75" fill="#f9c3a8"/>
<rect x="374.25" y="431.28" width="7.21" height="7.20" fill="#fbceb6"/>
<rect x="430.72" y="430.10" width="9.56" height="9.55" fill="#86b9db"/>
<rect x="445.29" y="430.27" width="9.23" height="9.21" fill="#92c1df"/>
<rect x="459.43" y="430.00" width="9.77" height="9.76" fill="#7fb4d8" stroke-width="1" stroke-opacity="0.85"/>
<rect x="486.69" y="428.44" width="12.89" height="12.87" fill="#2864ac" stroke-width="0.8" stroke-opacity="0.7"/>
<rect x="185.64" y="444.39" width="9.77" height="9.76" fill="#7fb4d8" stroke-width="1" stroke-opacity="0.85"/>
<rect x="228.41" y="443.93" width="10.69" height="10.67" fill="#de715a" stroke-width="1" stroke-opacity="0.85"/>
<rect x="244.22" y="445.32" width="7.89" height="7.88" fill="#f8c0a4"/>
<rect x="258.50" y="445.19" width="8.15" height="8.14" fill="#f8bb9e"/>
<rect x="273.46" y="445.74" width="7.06" height="7.05" fill="#c5deed"/>
<rect x="315.07" y="444.13" width="10.29" height="10.28" fill="#6ba6d2" stroke-width="1" stroke-opacity="0.85"/>
<rect x="429.60" y="443.38" width="11.80" height="11.78" fill="#3d7fbd" stroke-width="1" stroke-opacity="0.85"/>
<rect x="445.77" y="445.13" width="8.28" height="8.27" fill="#abd0e6"/>
<rect x="459.48" y="444.44" width="9.67" height="9.65" fill="#82b6da" stroke-width="1" stroke-opacity="0.85"/>
<rect x="472.28" y="442.83" width="12.89" height="12.87" fill="#2864ac" stroke-width="0.8" stroke-opacity="0.7"/>
</g>
<g fill="none" stroke="#000" stroke-width="2.1">
<rect x="154.50" y="111.10" width="14.41" height="14.39"/>
<rect x="168.91" y="125.49" width="100.87" height="100.73"/>
<rect x="269.78" y="226.22" width="57.64" height="57.56"/>
<rect x="327.42" y="283.78" width="57.64" height="57.56"/>
<rect x="385.06" y="341.34" width="43.23" height="43.17"/>
<rect x="428.29" y="384.51" width="72.05" height="71.95"/>
</g>
<g font-family="'Liberation Sans', Arial, Helvetica, sans-serif">
<text x="531.3" y="114" font-size="12" font-weight="bold" fill="#333">HMO groups</text>
<rect x="526.5" y="120.5" width="14.7" height="13.6" fill="#DE64AA"/>
<text x="549.5" y="131.7" font-size="12" fill="#3c3c3c">Fucosylated</text>
<rect x="526.5" y="138.5" width="14.7" height="13.6" fill="#7DD750"/>
<text x="549.5" y="149.7" font-size="12" fill="#3c3c3c">Core</text>
<rect x="526.5" y="156.5" width="14.7" height="13.6" fill="#F0B941"/>
<text x="549.5" y="167.7" font-size="12" fill="#3c3c3c">Sialylated</text>
<text x="528.8" y="194.8" font-size="12" font-weight="bold" fill="#444">Correlation</text>
<text x="528.8" y="207.9" font-size="10" font-weight="bold" fill="#444">(p.adj &lt; 0.001)</text>
<defs><linearGradient id="cg" x1="0" x2="1" y1="0" y2="0">
<stop offset="0" stop-color="#640a1e"/>
<stop offset="0.12" stop-color="#af232d"/>
<stop offset="0.24" stop-color="#d76450"/>
<stop offset="0.34" stop-color="#f5aa87"/>
<stop offset="0.42" stop-color="#fad7c3"/>
<stop offset="0.5" stop-color="#f7f7f7"/>
<stop offset="0.58" stop-color="#d7e6f0"/>
<stop offset="0.67" stop-color="#96c3e1"/>
<stop offset="0.78" stop-color="#468cc3"/>
<stop offset="0.88" stop-color="#2364aa"/>
<stop offset="1" stop-color="#0c2f66"/>
</linearGradient></defs>
<rect x="530" y="216.3" width="125.2" height="4.4" fill="url(#cg)"/>
<g font-size="10" font-weight="bold" fill="#111">
<text x="520.8" y="232.6">-0.68</text>
<text x="592.3" y="232.6" text-anchor="middle">0</text>
<text x="655.3" y="232.6" text-anchor="end">1</text>
</g></g>
</svg>
</body></html>
